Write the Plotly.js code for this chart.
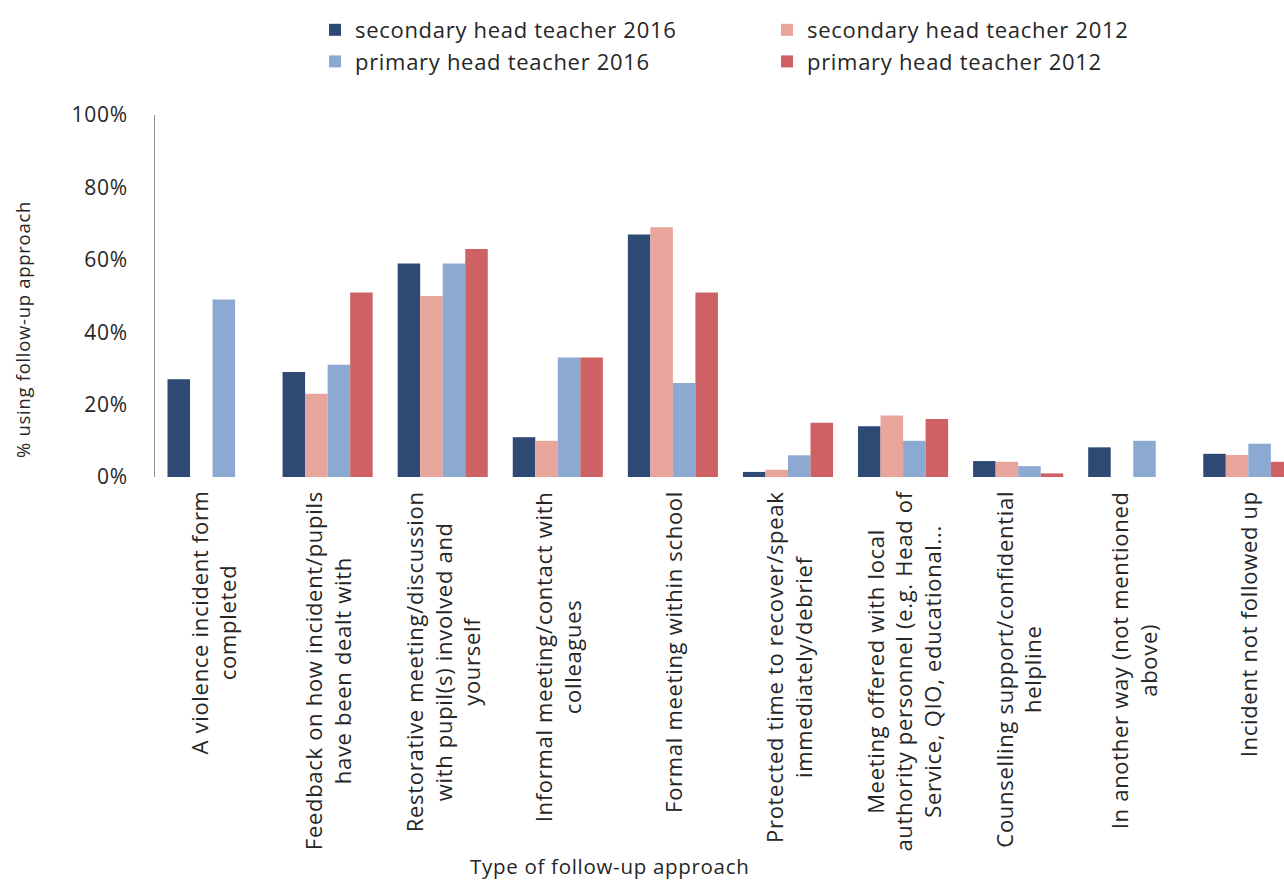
<!DOCTYPE html>
<html>
<head>
<meta charset="utf-8">
<script src="https://cdn.plot.ly/plotly-3.0.1.min.js"></script>
<style>
html,body{margin:0;padding:0;background:#fff;overflow:hidden;}
#chart{width:1284px;height:884px;}
svg text{letter-spacing:0.7px;}
.legendbar{transform-box:fill-box;transform-origin:center;transform:translate(10px,0) scale(1.4,1.35);}
</style>
</head>
<body>
<div id="chart"></div>
<script>
const categories = [
  "A violence incident form<br>completed",
  "Feedback on how incident/pupils<br>have been dealt with",
  "Restorative meeting/discussion<br>with pupil(s) involved and<br>yourself",
  "Informal meeting/contact with<br>colleagues",
  "Formal meeting within school",
  "Protected time to recover/speak<br>immediately/debrief",
  "Meeting offered with local<br>authority personnel (e.g. Head of<br>Service, QIO, educational...",
  "Counselling support/confidential<br>helpline",
  "In another way (not mentioned<br>above)",
  "Incident not followed up"
];
const seriesNames = ["secondary head teacher 2016", "secondary head teacher 2012", "primary head teacher 2016", "primary head teacher 2012"];
const secondary2016 = [27, 29, 59, 11, 67, 1.4, 14, 4.4, 8.2, 6.4];
const secondary2012 = [null, 23, 50, 10, 69, 2, 17, 4.2, null, 6.1];
const primary2016 = [49, 31, 59, 33, 26, 6, 10, 3, 10, 9.2];
const primary2012 = [null, 51, 63, 33, 51, 15, 16, 1, null, 4.2];
const yTickVals = [0, 20, 40, 60, 80, 100];
const yTickText = ["0%", "20%", "40%", "60%", "80%", "100%"];
const colors = ["#2E4A74", "#E8A59B", "#8CAAD1", "#CD6164"];

const seriesValues = [secondary2016, secondary2012, primary2016, primary2012];
const font = "'Open Sans', sans-serif";
const txt = "#262626";

const traces = seriesValues.map((vals, i) => ({
  type: "bar",
  name: seriesNames[i],
  x: categories,
  y: vals,
  marker: {color: colors[i], line: {width: 0}},
  hoverinfo: "none"
}));

const annotations = categories.map(c => ({
  x: c, xref: "x",
  y: 0, yref: "paper",
  yshift: -12,
  text: c,
  textangle: -90,
  xanchor: "center", yanchor: "top",
  align: "center",
  showarrow: false,
  font: {family: font, size: 22, color: txt}
}));

const plotW = 1284 - 155, plotH = 884 - 115 - 407;
annotations.push({
  x: (610 - 155) / plotW, xref: "paper",
  y: -(866 - 477) / plotH, yref: "paper",
  xanchor: "center", yanchor: "middle",
  text: "Type of follow-up approach", showarrow: false,
  font: {family: font, size: 20.5, color: txt}
});
annotations.push({
  x: (22 - 155) / plotW, xref: "paper",
  y: (477 - 330) / plotH, yref: "paper",
  xanchor: "center", yanchor: "middle",
  text: "% using follow-up approach", showarrow: false,
  textangle: -90,
  font: {family: font, size: 18.5, color: txt}
});

const layout = {
  width: 1284, height: 884,
  margin: {l: 155, r: 0, t: 115, b: 407},
  paper_bgcolor: "#fff", plot_bgcolor: "#fff",
  barmode: "group",
  bargap: 0.217, bargroupgap: 0,
  showlegend: true,
  legend: {
    orientation: "h",
    x: (315 - 155) / plotW, xanchor: "left",
    y: 1 + (115 - 9) / plotH, yanchor: "top",
    entrywidth: 407, entrywidthmode: "pixels",
    font: {family: font, size: 22, color: txt},
    traceorder: "normal",
    itemclick: false
  },
  xaxis: {
    type: "category",
    range: [-0.5, 9.31],
    showticklabels: false,
    showline: false, showgrid: false, zeroline: false, ticks: ""
  },
  yaxis: {
    range: [0, 100],
    tickvals: yTickVals, ticktext: yTickText,
    showgrid: false, zeroline: false,
    showline: true, linecolor: "#8c8c8c", linewidth: 1,
    ticks: "", ticklabelstandoff: 22,
    tickfont: {family: font, size: 21, color: txt}
  },
  annotations: annotations
};

Plotly.newPlot("chart", traces, layout, {displayModeBar: false, staticPlot: true});
</script>
</body>
</html>
